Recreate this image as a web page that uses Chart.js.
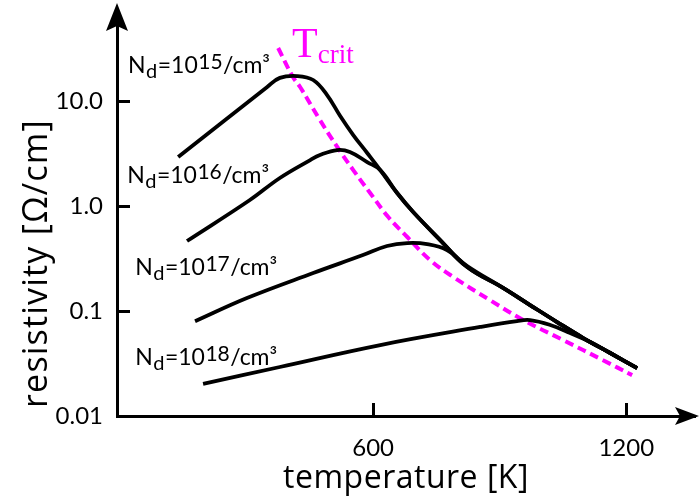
<!DOCTYPE html>
<html>
<head>
<meta charset="utf-8">
<script src="https://cdn.jsdelivr.net/npm/chart.js@4.4.1/dist/chart.umd.min.js"></script>
<style>
  html, body { margin: 0; padding: 0; background: #ffffff; }
  #wrap { width: 699px; height: 497px; position: relative; }
</style>
</head>
<body>
<div id="wrap"><canvas id="c" width="699" height="497"></canvas></div>
<script>
// ---- data ----
const tempN15 = [138, 349, 379, 420, 458, 491, 522, 553, 586, 617, 657, 695, 759, 823, 908, 972, 1036, 1098, 1162, 1226];
const rhoN15  = [2.93, 13.6, 16.6, 17.3, 15.85, 11.4, 7.2, 4.74, 3.2, 2.2, 1.33, 0.877, 0.474, 0.262, 0.166, 0.114, 0.0785, 0.0553, 0.0398, 0.0286];

const tempN16 = [159, 308, 379, 451, 474, 515, 545, 586, 617, 657, 695, 759, 823, 908, 972, 1036, 1098, 1162, 1226];
const rhoN16  = [0.464, 1.14, 1.85, 2.74, 3.06, 3.41, 3.27, 2.62, 2.2, 1.33, 0.877, 0.474, 0.262, 0.166, 0.114, 0.0785, 0.0553, 0.0398, 0.0286];

const tempN17 = [178, 301, 458, 576, 633, 681, 728, 775, 823, 908, 972, 1036, 1098, 1162, 1226];
const rhoN17  = [0.080, 0.133, 0.230, 0.341, 0.416, 0.444, 0.434, 0.381, 0.268, 0.166, 0.114, 0.0785, 0.0553, 0.0398, 0.0286];

const tempN18 = [197, 379, 617, 854, 941, 972, 1020, 1067, 1115, 1162, 1226];
const rhoN18  = [0.0202, 0.0293, 0.0474, 0.0705, 0.0803, 0.082, 0.0736, 0.0617, 0.0507, 0.0398, 0.0286];

const tempCrit = [375, 410, 427, 474, 515, 553, 593, 636, 681, 735, 790, 877, 956, 1050, 1145, 1214];
const rhoCrit  = [32, 16.9, 13.6, 6.6, 3.65, 2.2, 1.33, 0.785, 0.507, 0.306, 0.211, 0.127, 0.082, 0.053, 0.034, 0.0245];

const xTicks = [600, 1200];
const xTickLabels = ['600', '1200'];
const yTicks = [0.01, 0.1, 1, 10];
const yTickLabels = ['0.01', '0.1', '1.0', '10.0'];

const labelExponents = ['15', '16', '17', '18'];
const labelTemp = [19, 17, 36, 36];
const labelRho  = [18.5, 1.66, 0.22, 0.0306];
const critLabelTemp = 408;
const critLabelRho = 26.2;

const xTitle = 'temperature [K]';
const yTitle = 'resistivity [Ω/cm]';

// ---- build ----
const FONT = 'Lato, "Open Sans", sans-serif';
const TFONT = '"Open Sans", Lato, sans-serif';
function pts(xs, ys) { return xs.map((x, i) => ({ x: x, y: ys[i] })); }

function blackLine(xs, ys) {
  return { data: pts(xs, ys), borderColor: '#000000', borderWidth: 3.8, pointRadius: 0,
           tension: 0.4, fill: false, borderCapStyle: 'butt' };
}

const datasets = [
  blackLine(tempN15, rhoN15),
  blackLine(tempN16, rhoN16),
  blackLine(tempN17, rhoN17),
  blackLine(tempN18, rhoN18),
  { data: pts(tempCrit, rhoCrit), borderColor: '#ff00ff', borderWidth: 4, borderDash: [9, 5],
    pointRadius: 0, tension: 0.4, fill: false, borderCapStyle: 'butt' }
];

const decor = {
  id: 'decor',
  afterDraw(chart) {
    const ctx = chart.ctx, xs = chart.scales.x, ys = chart.scales.y, a = chart.chartArea;
    ctx.save();
    ctx.strokeStyle = '#000'; ctx.fillStyle = '#000'; ctx.lineWidth = 3;
    // inward tick marks
    yTicks.forEach(v => {
      if (v === ys.min) return;
      const py = Math.round(ys.getPixelForValue(v)) + 0.5;
      ctx.beginPath(); ctx.moveTo(a.left, py); ctx.lineTo(a.left + 13, py); ctx.stroke();
    });
    xTicks.forEach(v => {
      const px = Math.round(xs.getPixelForValue(v)) + 0.5;
      ctx.beginPath(); ctx.moveTo(px, a.bottom); ctx.lineTo(px, a.bottom - 13); ctx.stroke();
    });
    // arrow heads
    const ax = a.left, ay = a.bottom;
    ctx.beginPath();
    ctx.moveTo(ax, a.top - 7);
    ctx.lineTo(ax - 11, a.top + 21);
    ctx.lineTo(ax, a.top + 16);
    ctx.lineTo(ax + 11, a.top + 21);
    ctx.closePath(); ctx.fill();
    ctx.beginPath();
    ctx.moveTo(a.right + 4, ay);
    ctx.lineTo(a.right - 20, ay - 9);
    ctx.lineTo(a.right - 15, ay);
    ctx.lineTo(a.right - 20, ay + 9);
    ctx.closePath(); ctx.fill();

    // axis titles
    ctx.textBaseline = 'alphabetic';
    ctx.textAlign = 'center';
    ctx.font = '32px ' + TFONT;
    try { ctx.letterSpacing = '0.5px'; } catch (e) {}
    ctx.fillText(xTitle, (a.left + a.right) / 2, 488);
    ctx.save();
    ctx.translate(47, a.bottom - 8);
    ctx.rotate(-Math.PI / 2);
    ctx.textAlign = 'left';
    ctx.font = '34px ' + TFONT;
    try { ctx.letterSpacing = '1.2px'; } catch (e) {}
    ctx.fillText(yTitle, 0, 0);
    ctx.restore();
    try { ctx.letterSpacing = '0px'; } catch (e) {}

    // curve labels
    ctx.textBaseline = 'alphabetic'; ctx.textAlign = 'left';
    labelExponents.forEach((e, i) => {
      let x = xs.getPixelForValue(labelTemp[i]);
      const y = ys.getPixelForValue(labelRho[i]);
      const parts = [
        ['N', 23, 0], ['d', 20, 5], ['=10', 23, 0], [e, 21, -4], ['/cm³', 23, 0]
      ];
      parts.forEach(p => {
        ctx.font = p[1] + 'px ' + FONT;
        ctx.fillText(p[0], x, y + p[2]);
        x += ctx.measureText(p[0]).width + 0.5;
      });
    });
    // T_crit label
    ctx.fillStyle = '#ff00ff';
    let tx = xs.getPixelForValue(critLabelTemp);
    const ty = ys.getPixelForValue(critLabelRho);
    ctx.font = '42px "Liberation Serif", "DejaVu Serif", serif';
    ctx.fillText('T', tx, ty);
    tx += ctx.measureText('T').width;
    ctx.font = '27px "Liberation Serif", "DejaVu Serif", serif';
    ctx.fillText('crit', tx, ty + 6);
    ctx.restore();
  }
};

new Chart(document.getElementById('c'), {
  type: 'line',
  data: { datasets: datasets },
  plugins: [decor],
  options: {
    responsive: false,
    animation: false,
    events: [],
    layout: { padding: { top: 10, right: 4, left: 0, bottom: 0 } },
    plugins: { legend: { display: false }, tooltip: { enabled: false } },
    scales: {
      x: {
        type: 'linear', min: -7, max: 1363,
        grid: { display: false },
        border: { display: true, color: '#000', width: 3 },
        afterBuildTicks: s => { s.ticks = xTicks.map(v => ({ value: v })); },
        afterFit: s => { s.height = 81; s.paddingLeft = 0; s.paddingRight = 0; },
        ticks: { color: '#000', font: { family: FONT, size: 24 }, padding: 10,
                 maxRotation: 0, autoSkip: false,
                 callback: (v, i) => xTickLabels[i] },
        title: { display: false, text: xTitle }
      },
      y: {
        type: 'logarithmic', min: 0.01, max: 73.6,
        grid: { display: false },
        border: { display: true, color: '#000', width: 3 },
        afterBuildTicks: s => { s.ticks = yTicks.map(v => ({ value: v })); },
        afterFit: s => { s.width = 117; s.paddingTop = 0; s.paddingBottom = 0; },
        ticks: { color: '#000', font: { family: FONT, size: 24 }, padding: 6,
                 autoSkip: false, callback: (v, i) => yTickLabels[i] },
        title: { display: false, text: yTitle }
      }
    }
  }
});
</script>
</body>
</html>
